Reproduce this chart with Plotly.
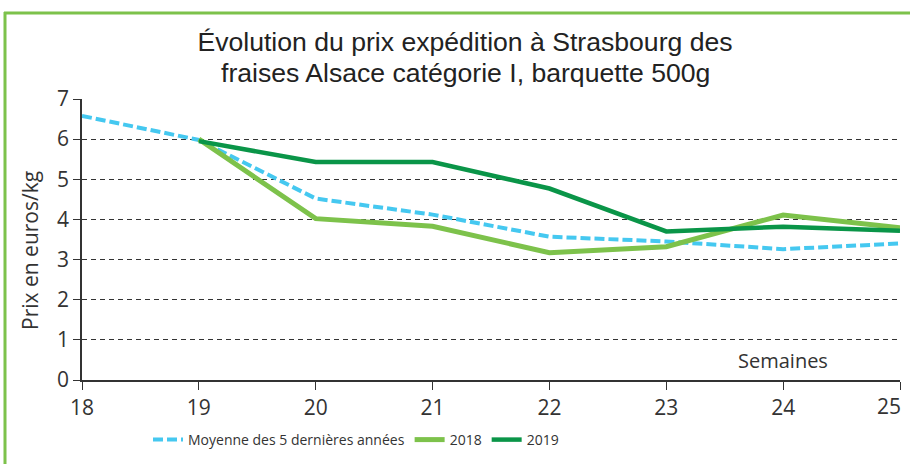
import plotly.graph_objects as go

weeks = [18, 19, 20, 21, 22, 23, 24, 25]
moyenne = [6.58, 5.98, 4.52, 4.12, 3.57, 3.45, 3.26, 3.40]
weeks_y = [19, 20, 21, 22, 23, 24, 25]
y2018 = [6.0, 4.02, 3.83, 3.17, 3.32, 4.11, 3.79]
y2019 = [5.95, 5.43, 5.43, 4.77, 3.70, 3.82, 3.72]
tick_labels = ["18", "19", "20", "21", "22", "23", "24", ""]
last_tick_label = "25"
title_1 = "Évolution du prix expédition à Strasbourg des"
title_2 = "fraises Alsace catégorie I, barquette 500g"
y_title = "Prix en euros/kg"
x_title = "Semaines"

c_blue = "#45C8F0"
c_light = "#7DC24B"
c_dark = "#0A9548"
c_text = "#333"

fig = go.Figure()
fig.add_trace(go.Scatter(x=weeks, y=moyenne, mode="lines", name="Moyenne des 5 dernières années",
                         line=dict(color=c_blue, width=4, dash="10px,4px")))
fig.add_trace(go.Scatter(x=weeks_y, y=y2018, mode="lines", name="2018",
                         line=dict(color=c_light, width=5)))
fig.add_trace(go.Scatter(x=weeks_y, y=y2019, mode="lines", name="2019",
                         line=dict(color=c_dark, width=4.5)))

W, H = 910, 464
ml, mr, mt, mb = 82, 10, 99, 84
pw, ph = W - ml - mr, H - mt - mb

def px_x(p):
    return (p - ml) / pw

def px_y(p):
    return (H - mb - p) / ph

title_font = dict(family="Liberation Sans", size=26.6, color="#222")
tick_size = 21

fig.update_layout(
    width=W, height=H,
    margin=dict(l=ml, r=mr, t=mt, b=mb, autoexpand=False),
    paper_bgcolor="white", plot_bgcolor="white",
    title=dict(text=title_1, x=465 / W, xanchor="center", y=1 - 42 / H, yanchor="middle",
               font=title_font),
    font=dict(family="Open Sans", color=c_text),
    showlegend=True,
    legend=dict(orientation="h", x=px_x(148), xanchor="left", y=px_y(440), yanchor="middle",
                font=dict(family="Open Sans", size=14, color=c_text), traceorder="normal",
                itemwidth=30),
    xaxis=dict(range=[18, 25], tickmode="array", tickvals=weeks, ticktext=tick_labels, showgrid=False,
               showline=True, linecolor=c_text, linewidth=1.5, ticks="outside", ticklen=8,
               tickcolor=c_text, tickfont=dict(size=tick_size, color=c_text), zeroline=False,
               automargin=False),
    yaxis=dict(range=[0, 7], dtick=1, showgrid=True, gridcolor=c_text, griddash="5px,4px",
               gridwidth=1, showline=True, linecolor=c_text, linewidth=1.5, ticks="outside",
               ticklen=7, tickcolor=c_text, tickfont=dict(size=tick_size, color=c_text), zeroline=False,
               automargin=False),
    annotations=[
        dict(text=title_2, x=px_x(465), y=px_y(73), xref="paper", yref="paper",
             showarrow=False, xanchor="center", yanchor="middle", font=title_font),
        dict(text=x_title, x=24.0, y=px_y(360), xref="x", yref="paper", showarrow=False,
             xanchor="center", yanchor="middle", font=dict(size=20, color=c_text)),
        dict(text=y_title, x=px_x(30), y=px_y(251), xref="paper", yref="paper", showarrow=False,
             textangle=-90, xanchor="center", yanchor="middle", font=dict(size=21, color=c_text)),
        dict(text=last_tick_label, x=weeks[-1], y=px_y(406), xref="x", yref="paper",
             showarrow=False, xanchor="right", yanchor="middle", xshift=3,
             font=dict(size=tick_size, color=c_text)),
    ],
)

# green frame (top and left)
fig.add_shape(type="line", xref="paper", yref="paper", x0=px_x(4), x1=px_x(912),
              y0=px_y(13), y1=px_y(13), line=dict(color=c_light, width=3))
fig.add_shape(type="line", xref="paper", yref="paper", x0=px_x(5), x1=px_x(5),
              y0=px_y(12), y1=px_y(470), line=dict(color=c_light, width=3))

fig.write_html("out.html", config={"displayModeBar": False},
               post_script="document.body.style.margin='0px';")
